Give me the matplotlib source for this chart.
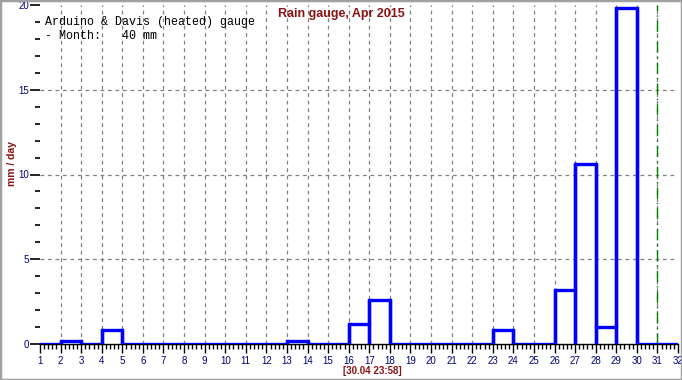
import numpy as np
import matplotlib.pyplot as plt
from matplotlib.patches import Rectangle
from matplotlib.ticker import MultipleLocator

# daily rain, April 2015 (mm / day)
days = list(range(1, 32))
rain = [0, 0.2, 0, 0.85, 0, 0, 0, 0, 0, 0, 0, 0, 0.2, 0, 0, 1.2, 2.6, 0, 0, 0, 0, 0,
        0.85, 0, 0, 3.2, 10.6, 1.0, 19.8, 0, 0]
month_total = 40
xticks = list(range(1, 33))
yticks = [0, 5, 10, 15, 20]

navy = '#000080'
darkred = '#8b1010'

fig = plt.figure(figsize=(6.82, 3.80), dpi=100)
ax = fig.add_axes([40 / 682, (380 - 344) / 380, 638 / 682, 339 / 380])

# step outline of the daily bars
xs = days + [32]
ys = rain + [rain[-1]]
ax.step(xs, ys, where='post', color='#0000ff', lw=2.4, zorder=3)
for d, v in zip(days, rain):
    if v > 0:
        ax.plot([d, d], [0, v], color='#0000ff', lw=2.4, zorder=3)
        ax.plot([d + 1, d + 1], [0, v], color='#0000ff', lw=2.4, zorder=3)

# grid
for d in xticks[1:-1]:
    ax.axvline(d, color='#808080', ls=(0, (3, 3)), lw=0.9, zorder=1)
for v in [5, 10, 15]:
    ax.axhline(v, color='#808080', ls=(0, (3, 3)), lw=0.9, zorder=1)
ax.axvline(31, color='#008000', ls=(0, (8, 3, 1, 3)), lw=1.0, zorder=2)

ax.set_xlim(1, 32)
ax.set_ylim(0, 20)
ax.set_xticks(xticks)
ax.set_yticks(yticks)
ax.xaxis.set_minor_locator(MultipleLocator(0.2))
ax.yaxis.set_minor_locator(MultipleLocator(1))
ax.tick_params(axis='x', which='major', direction='out', length=6.5, width=1,
               labelsize=7, labelcolor=navy, pad=2)
ax.tick_params(axis='x', which='minor', direction='out', length=3.5, width=1)
ax.tick_params(axis='y', which='major', direction='out', length=7, width=1.2,
               labelsize=7, labelcolor=navy, pad=1)
ax.tick_params(axis='y', which='minor', direction='out', length=3.5, width=1.2)
for lab in ax.get_xticklabels() + ax.get_yticklabels():
    lab.set_family('Liberation Sans')
for s in ['top', 'right', 'left']:
    ax.spines[s].set_visible(False)
ax.spines['bottom'].set_linewidth(1)

fig.text(341 / 682, 1 - 14 / 380, 'Rain gauge, Apr 2015', color=darkred, fontsize=9,
         fontweight='bold', family='Liberation Sans', ha='center', va='center')
fig.text(12 / 682, 1 - 163 / 380, 'mm / day', color=darkred, fontsize=7.5,
         fontweight='bold', family='Liberation Sans', rotation=90, ha='center', va='center')
fig.text(372 / 682, 1 - 371 / 380, '[30.04 23:58]', color=darkred, fontsize=7,
         fontweight='bold', family='Liberation Sans', ha='center', va='center')
fig.text(45 / 682, 1 - 22 / 380, 'Arduino & Davis (heated) gauge', color='black',
         fontsize=8.4, family='Liberation Mono', ha='left', va='center')
fig.text(45 / 682, 1 - 36 / 380, '- Month:   %d mm' % month_total, color='black',
         fontsize=8.4, family='Liberation Mono', ha='left', va='center')

fig.patches.append(Rectangle((0, 0), 1, 1, transform=fig.transFigure, fill=False,
                             edgecolor='#a0a0a0', lw=2.5))

fig.savefig('out.png', dpi=100)
